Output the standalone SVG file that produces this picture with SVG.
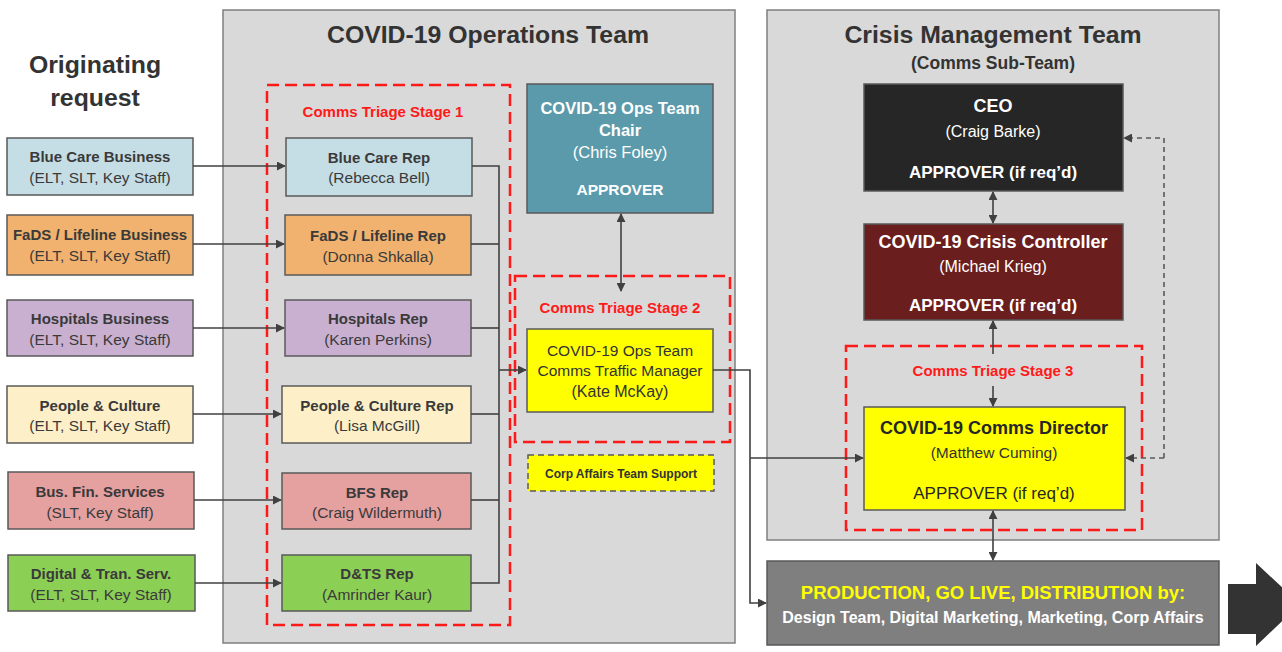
<svg xmlns="http://www.w3.org/2000/svg" width="1282" height="652" viewBox="0 0 1282 652">
<defs>
<marker id="ah" viewBox="0 0 10 10" refX="9" refY="5" markerWidth="9" markerHeight="9" markerUnits="userSpaceOnUse" orient="auto-start-reverse"><path d="M0,0 L10,5 L0,10 z" fill="#404040"/></marker>
<style>
text{font-family:"Liberation Sans",Arial,sans-serif;text-anchor:middle}
.panel{fill:#d9d9d9;stroke:#7f7f7f;stroke-width:1.5}
.box{stroke:#595959;stroke-width:1.5}
.stage{fill:none;stroke:#ff1a1a;stroke-width:2.5;stroke-dasharray:12 6}
.stl{fill:#ff1a1a;font-size:15px;font-weight:bold}
.t1{fill:#3a3a3a;font-size:15px;font-weight:bold}
.t2{fill:#3a3a3a;font-size:15.5px}
.w1{fill:#fff;font-size:18px;font-weight:bold}
.w2{fill:#fff;font-size:16px}
.k1{fill:#262626;font-size:18px;font-weight:bold}
.title{fill:#333;font-size:24.8px;font-weight:bold}
.c{fill:none;stroke:#404040;stroke-width:1.6}
.cd{fill:none;stroke:#595959;stroke-width:1.6;stroke-dasharray:5 4}
</style>
</defs>
<rect width="1282" height="652" fill="#fff"/>

<g id="originating-title">
<text class="title" x="95" y="73">Originating</text>
<text class="title" x="95" y="106">request</text>
</g>

<g id="ops-team">
<rect class="panel" x="223" y="10" width="512" height="633"/>
<text class="title" x="488" y="43">COVID-19 Operations Team</text>
</g>
<g id="crisis-team">
<rect class="panel" x="767" y="10" width="452" height="530"/>
<text class="title" x="993" y="43">Crisis Management Team</text>
<text fill="#333" font-size="17.5" font-weight="bold" x="993" y="69">(Comms Sub-Team)</text>
</g>

<g id="stage1"><rect class="stage" x="267" y="85" width="243" height="540"/><text class="stl" x="383" y="117">Comms Triage Stage 1</text></g>
<g id="stage2"><rect class="stage" x="515" y="276" width="215" height="166"/><text class="stl" x="620" y="313">Comms Triage Stage 2</text></g>
<g id="stage3"><rect class="stage" x="846" y="346" width="296" height="184"/><text class="stl" x="993" y="376">Comms Triage Stage 3</text></g>

<g id="bluecare-business"><rect class="box" x="7" y="138" width="186" height="57" fill="#c5dde4"/><text class="t1" x="100" y="162">Blue Care Business</text><text class="t2" x="100" y="183">(ELT, SLT, Key Staff)</text></g>
<g id="fads-business"><rect class="box" x="7" y="215" width="186" height="60" fill="#f0b26e"/><text class="t1" x="100" y="240">FaDS / Lifeline Business</text><text class="t2" x="100" y="261">(ELT, SLT, Key Staff)</text></g>
<g id="hospitals-business"><rect class="box" x="7" y="300" width="186" height="56" fill="#c9b0d0"/><text class="t1" x="100" y="324">Hospitals Business</text><text class="t2" x="100" y="345">(ELT, SLT, Key Staff)</text></g>
<g id="people-culture"><rect class="box" x="7" y="386" width="186" height="57" fill="#fdf0c9"/><text class="t1" x="100" y="411">People &amp; Culture</text><text class="t2" x="100" y="431">(ELT, SLT, Key Staff)</text></g>
<g id="bus-fin-services"><rect class="box" x="8" y="472" width="186" height="57" fill="#e5a0a0"/><text class="t1" x="100" y="497">Bus. Fin. Services</text><text class="t2" x="100" y="518">(SLT, Key Staff)</text></g>
<g id="digital-tran"><rect class="box" x="8" y="555" width="187" height="56" fill="#8ccf55"/><text class="t1" x="101" y="579">Digital &amp; Tran. Serv.</text><text class="t2" x="101" y="600">(ELT, SLT, Key Staff)</text></g>

<g id="bluecare-rep"><rect class="box" x="286" y="138" width="186" height="58" fill="#c5dde4"/><text class="t1" x="379" y="163">Blue Care Rep</text><text class="t2" x="379" y="183">(Rebecca Bell)</text></g>
<g id="fads-rep"><rect class="box" x="285" y="215" width="186" height="60" fill="#f0b26e"/><text class="t1" x="378" y="241">FaDS / Lifeline Rep</text><text class="t2" x="378" y="262">(Donna Shkalla)</text></g>
<g id="hospitals-rep"><rect class="box" x="285" y="300" width="186" height="56" fill="#c9b0d0"/><text class="t1" x="378" y="324">Hospitals Rep</text><text class="t2" x="378" y="345">(Karen Perkins)</text></g>
<g id="people-culture-rep"><rect class="box" x="282" y="386" width="189" height="57" fill="#fdf0c9"/><text class="t1" x="377" y="411">People &amp; Culture Rep</text><text class="t2" x="377" y="431">(Lisa McGill)</text></g>
<g id="bfs-rep"><rect class="box" x="282" y="473" width="189" height="56" fill="#e5a0a0"/><text class="t1" x="377" y="498">BFS Rep</text><text class="t2" x="377" y="518">(Craig Wildermuth)</text></g>
<g id="dts-rep"><rect class="box" x="282" y="555" width="189" height="56" fill="#8ccf55"/><text class="t1" x="377" y="579">D&amp;TS Rep</text><text class="t2" x="377" y="600">(Amrinder Kaur)</text></g>

<g id="ops-chair"><rect class="box" x="527" y="84" width="186" height="129" fill="#5b9aab"/>
<text fill="#fff" font-size="16.5" font-weight="bold" x="620" y="114">COVID-19 Ops Team</text>
<text fill="#fff" font-size="16.5" font-weight="bold" x="620" y="136">Chair</text>
<text fill="#fff" font-size="16.5" x="620" y="158">(Chris Foley)</text>
<text fill="#fff" font-size="15.5" font-weight="bold" x="620" y="195">APPROVER</text></g>

<g id="traffic-manager"><rect class="box" x="527" y="329" width="186" height="83" fill="#ffff00"/>
<text fill="#333" font-size="15.5" x="620" y="356">COVID-19 Ops Team</text>
<text fill="#333" font-size="15.5" x="620" y="376">Comms Traffic Manager</text>
<text fill="#333" font-size="16" x="620" y="397">(Kate McKay)</text></g>

<g id="corp-affairs"><rect x="528" y="455" width="186" height="36" fill="#ffff00" stroke="#595959" stroke-width="1.5" stroke-dasharray="6 4"/>
<text fill="#333" font-size="12" font-weight="bold" x="621" y="478">Corp Affairs Team Support</text></g>

<g id="ceo"><rect class="box" x="864" y="84" width="259" height="107" fill="#262626"/>
<text class="w1" x="993" y="112">CEO</text><text class="w2" x="993" y="137">(Craig Barke)</text><text fill="#fff" font-size="17" font-weight="bold" x="993" y="178">APPROVER (if req’d)</text></g>

<g id="crisis-controller"><rect class="box" x="864" y="224" width="259" height="96" fill="#6b1e1e"/>
<text class="w1" x="993" y="248">COVID-19 Crisis Controller</text><text class="w2" x="993" y="272">(Michael Krieg)</text><text fill="#fff" font-size="17" font-weight="bold" x="993" y="311">APPROVER (if req’d)</text></g>

<g id="comms-director"><rect class="box" x="864" y="407" width="261" height="103" fill="#ffff00"/>
<text class="k1" x="994" y="434">COVID-19 Comms Director</text><text fill="#333" font-size="15.5" x="994" y="458">(Matthew Cuming)</text><text fill="#262626" font-size="17" x="994" y="499">APPROVER (if req’d)</text></g>

<g id="production"><rect x="767" y="561" width="452" height="84" fill="#7f7f7f" stroke="#595959" stroke-width="1.5"/>
<text fill="#ffff00" font-size="18.5" font-weight="bold" x="993" y="599">PRODUCTION, GO LIVE, DISTRIBUTION by:</text>
<text fill="#fff" font-size="16" font-weight="bold" x="993" y="623">Design Team, Digital Marketing, Marketing, Corp Affairs</text></g>

<g id="big-arrow"><polygon points="1228,584 1256,584 1256,563 1300,604 1256,646 1256,634 1228,634" fill="#333"/></g>

<g id="connectors">
<line class="c" x1="193" y1="166" x2="285" y2="166" marker-end="url(#ah)"/>
<line class="c" x1="193" y1="244" x2="284" y2="244" marker-end="url(#ah)"/>
<line class="c" x1="193" y1="328" x2="284" y2="328" marker-end="url(#ah)"/>
<line class="c" x1="193" y1="414" x2="281" y2="414" marker-end="url(#ah)"/>
<line class="c" x1="194" y1="500" x2="281" y2="500" marker-end="url(#ah)"/>
<line class="c" x1="195" y1="583" x2="281" y2="583" marker-end="url(#ah)"/>
<polyline class="c" points="472,166 499,166 499,583 471,583"/>
<line class="c" x1="471" y1="244" x2="499" y2="244"/>
<line class="c" x1="471" y1="328" x2="499" y2="328"/>
<line class="c" x1="471" y1="414" x2="499" y2="414"/>
<line class="c" x1="471" y1="500" x2="499" y2="500"/>
<line class="c" x1="499" y1="370" x2="526" y2="370" marker-end="url(#ah)"/>
<line class="c" x1="621" y1="214" x2="621" y2="291" marker-start="url(#ah)" marker-end="url(#ah)"/>
<polyline class="c" points="713,370 750,370 750,603 766,603" marker-end="url(#ah)"/>
<line class="c" x1="750" y1="458" x2="863" y2="458" marker-end="url(#ah)"/>
<line class="c" x1="993" y1="192" x2="993" y2="223" marker-start="url(#ah)" marker-end="url(#ah)"/>
<line class="c" x1="993" y1="354" x2="993" y2="321" marker-end="url(#ah)"/>
<line class="c" x1="993" y1="386" x2="993" y2="406" marker-end="url(#ah)"/>
<line class="c" x1="993" y1="511" x2="993" y2="560" marker-start="url(#ah)" marker-end="url(#ah)"/>
<polyline class="cd" points="1164,458 1164,138 1124,138" marker-end="url(#ah)"/>
<line class="cd" x1="1164" y1="458" x2="1126" y2="458" marker-end="url(#ah)"/>
</g>
</svg>
